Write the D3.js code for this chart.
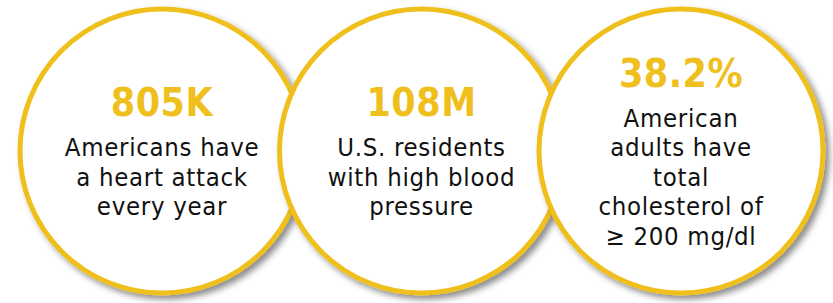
<!DOCTYPE html>
<html>
<head>
<meta charset="utf-8">
<script src="https://cdn.jsdelivr.net/npm/d3@7"></script>
<style>
  html, body { margin: 0; padding: 0; background: #fff; }
  svg { display: block; }
</style>
</head>
<body>
<div id="chart"></div>
<script>
// --- data
const stats = ["805K", "108M", "38.2%"]
const captions = [
    ["Americans have", "a heart attack", "every year"],
    ["U.S. residents", "with high blood", "pressure"],
    ["American", "adults have", "total", "cholesterol of", "\u2265 200 mg/dl"]
]

const width = 833
const height = 303
const yellow = "#EFBF1D"
const font = "'DejaVu Sans Condensed', 'DejaVu Sans', sans-serif"

const svg = d3.select("#chart").append("svg")
    .attr("width", width)
    .attr("height", height)

// soft grey shadow, down and to the right
const shadow = svg.append("defs").append("filter")
    .attr("id", "shadow")
    .attr("x", "-20%").attr("y", "-20%")
    .attr("width", "140%").attr("height", "140%")
shadow.append("feDropShadow")
    .attr("dx", 4).attr("dy", 4)
    .attr("stdDeviation", 3)
    .attr("flood-color", "#000")
    .attr("flood-opacity", 0.45)

const x = d3.scalePoint()
    .domain(d3.range(stats.length))
    .range([162, 681])

const cy = 151
const r = 142
const valueCap = 29      // cap height of the big number
const gap = 40           // number baseline -> first caption baseline
const lineH = 29.5

const bubbles = svg.selectAll("g.bubble")
    .data(stats.map((s, i) => ({ stat: s, lines: captions[i], i })))
    .join("g")
    .attr("class", "bubble")
    .attr("transform", d => `translate(${x(d.i)},${cy})`)

bubbles.append("circle")
    .attr("r", r)
    .attr("fill", "#fff")
    .attr("stroke", yellow)
    .attr("stroke-width", 5)
    .attr("filter", "url(#shadow)")

// block of text (number + caption) centred on the circle
function topOf(d) {
    const h = valueCap + gap + (d.lines.length - 1) * lineH
    return -h / 2
}

bubbles.append("text")
    .attr("text-anchor", "middle")
    .attr("y", d => topOf(d) + valueCap)
    .attr("fill", yellow)
    .attr("font-family", font)
    .attr("font-weight", "bold")
    .attr("font-size", 39)
    .attr("letter-spacing", 0.5)
    .text(d => d.stat)

bubbles.append("text")
    .attr("text-anchor", "middle")
    .attr("fill", "#111")
    .attr("font-family", font)
    .attr("font-size", 25.5)
    .attr("letter-spacing", 0.7)
    .selectAll("tspan")
    .data(d => d.lines.map((t, k) => ({ t, k, top: topOf(d) })))
    .join("tspan")
    .attr("x", 0)
    .attr("y", l => l.top + valueCap + gap + l.k * lineH)
    .text(l => l.t)
</script>
</body>
</html>
